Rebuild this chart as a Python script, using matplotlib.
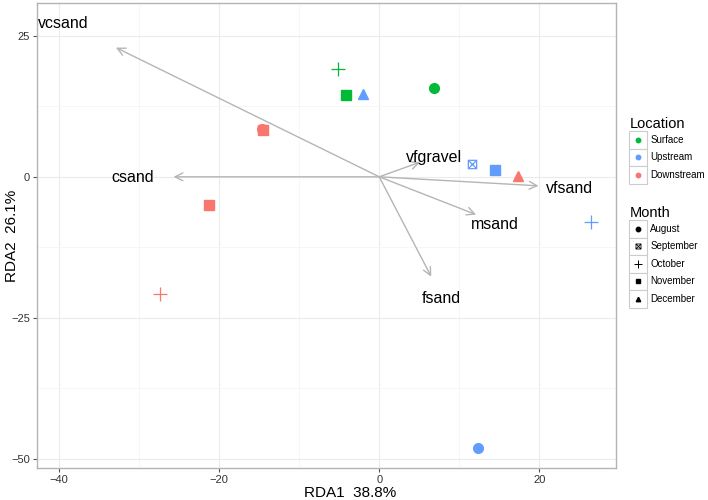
import numpy as np
import matplotlib
matplotlib.use("Agg")
import matplotlib.pyplot as plt
from matplotlib.path import Path
from matplotlib.patches import Rectangle
from matplotlib.lines import Line2D
from matplotlib.legend_handler import HandlerBase
from matplotlib.ticker import MultipleLocator

plt.rcParams["font.family"] = ["Liberation Sans", "DejaVu Sans"]

# site scores
locations = ["Surface", "Upstream", "Downstream"]
months = ["August", "September", "October", "November", "December"]
colors = {"Surface": "#00BA38", "Upstream": "#619CFF", "Downstream": "#F8766D"}

pt_loc = ["Surface", "Surface", "Surface",
          "Upstream", "Upstream", "Upstream", "Upstream", "Upstream",
          "Downstream", "Downstream", "Downstream", "Downstream", "Downstream"]
pt_month = ["October", "November", "August",
            "December", "September", "November", "October", "August",
            "August", "November", "November", "October", "December"]
pt_x = [-5.2, -4.2, 6.9,
        -2.0, 11.6, 14.5, 26.4, 12.3,
        -14.6, -14.5, -21.3, -27.4, 17.3]
pt_y = [19.1, 14.5, 15.8,
        14.7, 2.3, 1.2, -8.0, -48.0,
        8.4, 8.3, -5.0, -20.7, 0.2]

# biplot arrows (grain size classes)
vars_ = ["vcsand", "csand", "vfgravel", "vfsand", "msand", "fsand"]
arr_x = [-32.9, -25.7, 5.1, 19.9, 12.1, 6.5]
arr_y = [22.9, 0.0, 2.6, -1.6, -6.7, -17.7]
lab_x = [-39.5, -30.8, 6.9, 23.8, 14.4, 7.8]
lab_y = [27.1, -0.2, 3.4, -2.1, -8.5, -21.5]

sq_x = Path([(-1, -1), (1, -1), (1, 1), (-1, 1), (-1, -1),
             (-1, -1), (1, 1), (-1, 1), (1, -1)],
            [Path.MOVETO, Path.LINETO, Path.LINETO, Path.LINETO, Path.CLOSEPOLY,
             Path.MOVETO, Path.LINETO, Path.MOVETO, Path.LINETO])
shapes = {"August": "o", "September": sq_x, "October": "+", "November": "s", "December": "^"}
sizes = {"August": 7, "September": 6, "October": 10, "November": 6.5, "December": 7.5}

fig = plt.figure(figsize=(7.08, 5), dpi=100)
ax = fig.add_axes([0.0523, 0.064, 0.818, 0.930])

for x, y, lo, mo in zip(pt_x, pt_y, pt_loc, pt_month):
    c = colors[lo]
    if mo in ("October", "September"):
        ax.plot(x, y, marker=shapes[mo], ms=sizes[mo], mec=c, mfc="none", mew=0.9, ls="none", zorder=3)
    else:
        ax.plot(x, y, marker=shapes[mo], ms=sizes[mo], color=c, mec=c, ls="none", zorder=3)

for x, y, lx, ly, name in zip(arr_x, arr_y, lab_x, lab_y, vars_):
    ax.annotate("", xy=(x, y), xytext=(0, 0),
                arrowprops=dict(arrowstyle="->", color="#b5b5b5", lw=1.0,
                                shrinkA=0, shrinkB=0, mutation_scale=14))
    ax.text(lx, ly, name, ha="center", va="center", fontsize=11.5, color="black")

ax.set_xlim(-42.75, 29.6)
ax.set_ylim(-51.6, 30.8)
ax.xaxis.set_major_locator(MultipleLocator(20))
ax.xaxis.set_minor_locator(MultipleLocator(10))
ax.yaxis.set_major_locator(MultipleLocator(25))
ax.yaxis.set_minor_locator(MultipleLocator(12.5))
ax.grid(True, which="major", color="#ebebeb", lw=0.8)
ax.grid(True, which="minor", color="#f5f5f5", lw=0.6)
ax.set_axisbelow(True)
for s in ax.spines.values():
    s.set_color("#b3b3b3")
    s.set_linewidth(1.0)
ax.tick_params(which="major", length=3, color="#555555", labelsize=8, labelcolor="#333333", pad=2)
ax.tick_params(which="minor", length=0)
ax.set_xlabel("RDA1  38.8%", fontsize=11)
ax.set_ylabel("RDA2  26.1%", fontsize=11)
ax.xaxis.set_label_coords(0.54, -0.039)
ax.yaxis.set_label_coords(-0.031, 0.5)


class BoxHandler(HandlerBase):
    def create_artists(self, legend, orig, xdescent, ydescent, width, height, fontsize, trans):
        box = Rectangle((-xdescent, -ydescent), width, height, fc="white", ec="#cccccc", lw=0.8, transform=trans)
        m = Line2D([width / 2 - xdescent], [height / 2 - ydescent], marker=orig.get_marker(),
                   ms=orig.get_markersize(), color=orig.get_color(), mec=orig.get_markeredgecolor(),
                   mfc=orig.get_markerfacecolor(), mew=orig.get_markeredgewidth(), ls="none", transform=trans)
        return [box, m]


loc_handles = [Line2D([], [], marker="o", ms=3.2, color=colors[l], ls="none") for l in locations]
mon_handles = []
for mo in months:
    if mo == "October":
        mon_handles.append(Line2D([], [], marker="+", ms=6, color="black", mew=0.7, ls="none"))
    elif mo == "September":
        mon_handles.append(Line2D([], [], marker=sq_x, ms=3.6, color="black", mfc="none", mew=0.6, ls="none"))
    else:
        mon_handles.append(Line2D([], [], marker=shapes[mo], ms=3.2, color="black", ls="none"))

common = dict(frameon=False, fontsize=7.0, handlelength=1.85, handleheight=2.4, labelspacing=0,
              handletextpad=0.3, borderpad=0, borderaxespad=0, alignment="left",
              handler_map={Line2D: BoxHandler()}, title_fontsize=10.5)
leg1 = fig.legend(loc_handles, locations, title="Location", bbox_to_anchor=(0.889, 0.766),
                  loc="upper left", **common)
leg2 = fig.legend(mon_handles, months, title="Month", bbox_to_anchor=(0.889, 0.588),
                  loc="upper left", **common)

fig.savefig("out.png", dpi=100)
